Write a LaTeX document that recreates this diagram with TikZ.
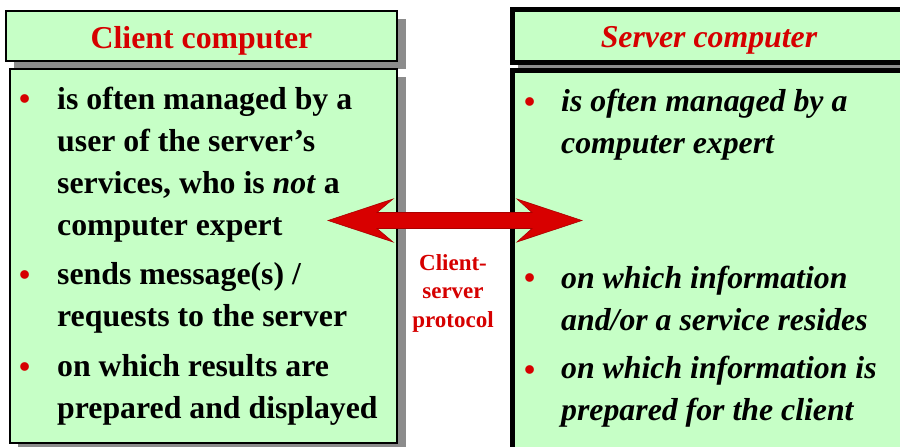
\documentclass[tikz,border=0pt]{standalone}
\usepackage{fontspec}
\setmainfont{Liberation Serif}
\definecolor{boxgreen}{RGB}{198,255,198}
\definecolor{shadowgray}{RGB}{140,140,140}
\definecolor{slidered}{RGB}{214,0,0}
\definecolor{arrowred}{RGB}{216,0,0}
\definecolor{arrowedge}{RGB}{170,0,0}
\tikzset{
  panel/.style={fill=boxgreen, draw=black, line width=1.2pt},
  heavypanel/.style={fill=boxgreen, draw=black, line width=5pt},
  dropshadow/.style={fill=shadowgray},
  titletext/.style={text=slidered, font=\fontsize{31.8}{38}\selectfont\bfseries, anchor=base, inner sep=0pt},
  % multi-line items are placed by the baseline of their last line
  itemtext/.style={font=\fontsize{31.8}{42}\selectfont\bfseries, anchor=base west, align=left, inner sep=0pt},
  itemdot/.style={text=slidered, font=\fontsize{31.8}{42}\selectfont\bfseries, anchor=base west, inner sep=0pt},
  protocoltext/.style={text=slidered, font=\fontsize{23}{28.5}\selectfont\bfseries, anchor=base, align=center, inner sep=0pt},
}
\begin{document}
\begin{tikzpicture}[x=1pt,y=-1pt]
\useasboundingbox (0,0) rectangle (900,447);

% client side: title bar and body with drop shadows
\fill[dropshadow] (14,19) rectangle (406,69);
\draw[panel] (6,11) rectangle (397,61);
\fill[dropshadow] (18,77) rectangle (406,452);
\draw[panel] (10,69) rectangle (397,443);

% server side: heavy framed title bar and body
\fill[dropshadow] (518,15) rectangle (930,73);
\draw[heavypanel] (512.5,9.5) rectangle (930,62.5);
\draw[heavypanel] (512.5,70.5) rectangle (930,470);

% titles
\node[titletext] (ctitle) at (201.5,48) {Client computer};
\node[titletext, font=\fontsize{31.8}{38}\selectfont\bfseries\itshape] (stitle) at (709,47) {Server computer};

% client items
\node[itemdot] (cd1) at (19,109) {•};
\node[itemtext] (c1) at (57,235) {is often managed by a\\user of the server’s\\services, who is \textit{not} a\\computer expert};
\node[itemdot] (cd2) at (19,285) {•};
\node[itemtext] (c2) at (57,326) {sends message(s) /\\requests to the server};
\node[itemdot] (cd3) at (19,377) {•};
\node[itemtext] (c3) at (57,418) {on which results are\\prepared and displayed};

% server items
\node[itemdot] (sd1) at (524,112) {•};
\node[itemtext, font=\fontsize{31.8}{41.5}\selectfont\bfseries\itshape] (s1) at (561,153) {is often managed by a\\computer expert};
\node[itemdot] (sd2) at (524,288) {•};
\node[itemtext, font=\fontsize{31.8}{41.5}\selectfont\bfseries\itshape] (s2) at (561,330) {on which information\\and/or a service resides};
\node[itemdot] (sd3) at (524,380) {•};
\node[itemtext, font=\fontsize{31.8}{41.5}\selectfont\bfseries\itshape] (s3) at (561,420) {on which information is\\prepared for the client};

% protocol label
\node[protocoltext] (proto) at (453,327) {Client-\\server\\protocol};

% double-headed block arrow between client and server
\coordinate (ltip) at (328,220.5);
\coordinate (rtip) at (582,220.5);
\filldraw[fill=arrowred, draw=arrowedge, line width=0.6pt, line join=miter]
  (ltip) -- (393,199) -- (377,212.5) -- (532,212.5) -- (517,199) -- (rtip)
  -- (517,242) -- (532,228.5) -- (377,228.5) -- (393,242) -- cycle;
\end{tikzpicture}
\end{document}
